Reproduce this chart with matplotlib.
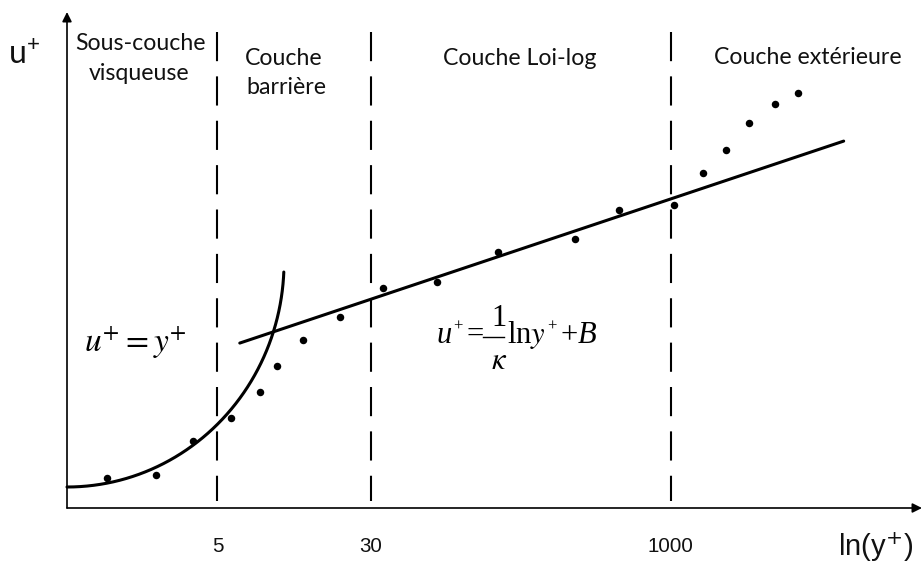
import numpy as np
import matplotlib
matplotlib.use("Agg")
import matplotlib.pyplot as plt

plt.rcParams["mathtext.fontset"] = "custom"
plt.rcParams["mathtext.rm"] = "Lato"
plt.rcParams["mathtext.it"] = "Lato:italic"

# --- data ---------------------------------------------------------------
# measured velocity profile: x = ln(y+), u = u+
ln_yplus = [0.32, 0.89, 1.32, 1.77, 2.11, 2.31, 2.61, 3.04, 3.54, 4.18,
            4.89, 5.79, 6.30, 6.95, 7.29, 7.55, 7.82, 8.13, 8.40]
u_plus = [2.56, 2.81, 5.71, 7.67, 9.89, 12.11, 14.32, 16.28, 18.76, 19.27,
          21.82, 22.93, 25.41, 25.83, 28.56, 30.52, 32.82, 34.44, 35.38]

# region limits (y+) and their labels
region_yplus = [5, 30, 1000]
region_ticks = ["5", "30", "1000"]

# log law u+ = (1/kappa) ln y+ + B
KAPPA = 0.41
B = 9.5
loglaw_range = [1.87, 8.93]

# sketched viscous-sublayer curve (quarter ellipse)
sub_x0, sub_a = -0.15, 2.537
sub_top, sub_b = 20.94, 19.15
sub_end = -0.043  # end angle (rad)

# --- figure -------------------------------------------------------------
W, H = 924, 566
fig = plt.figure(figsize=(W / 100, H / 100), dpi=100)
ax = fig.add_axes([0, 0, 1, 1])
ax.set_xlim(-0.9333, 9.869)
ax.set_ylim(-4.945, 43.31)
ax.axis("off")

x_axis_u = 0.0
y_axis_x = -0.15
top_u = (508 - 12) / 11.73
right_x = (922 - 79.83) / 85.54

arrow = dict(arrowstyle="-|>", lw=1.2, color="black",
             mutation_scale=14, shrinkA=0, shrinkB=0)
ax.annotate("", xy=(y_axis_x, top_u), xytext=(y_axis_x, x_axis_u),
            arrowprops=arrow)
ax.annotate("", xy=(right_x, x_axis_u), xytext=(y_axis_x, x_axis_u),
            arrowprops=arrow)

# region boundaries
dash_top = (508 - 32) / 11.73
dash_bot = (508 - 501) / 11.73
for yp in region_yplus:
    xv = np.log(yp)
    ax.plot([xv, xv], [dash_top, dash_bot], color="black", lw=1.5,
            dashes=(14, 7.3), solid_capstyle="butt", dash_capstyle="butt")

# viscous sublayer curve
th = np.linspace(-np.pi / 2, sub_end, 200)
ax.plot(sub_x0 + sub_a * np.cos(th), sub_top + sub_b * np.sin(th),
        color="black", lw=2.2, solid_capstyle="round")

# log law line
xl = np.array(loglaw_range)
ax.plot(xl, xl / KAPPA + B, color="black", lw=2.2, solid_capstyle="round")

# measurements
ax.plot(ln_yplus, u_plus, "o", color="black", ms=5.4, mec="none")


def ftext(px, py, s, **kw):
    fig.text(px / W, 1 - py / H, s, **kw)


sans = dict(family="Lato", color="#111111", ha="center", va="center")
FS = 16.7
ftext(140, 44, "Sous-couche", fontsize=FS, **sans)
ftext(139, 74, "visqueuse", fontsize=FS, **sans)
ftext(284, 58, "Couche", fontsize=FS, **sans)
ftext(286, 88, "barrière", fontsize=FS, **sans)
ftext(520, 58, "Couche Loi-log", fontsize=FS, **sans)
ftext(808, 57, "Couche extérieure", fontsize=FS, **sans)

ftext(24, 55, "u$^{+}$", fontsize=23, family="Lato", color="#111111",
      ha="center", va="center", math_fontfamily="custom")

arial = dict(family="Liberation Sans", color="#111111", ha="center", va="center")
for yp, lab in zip(region_yplus, region_ticks):
    px = 79.83 + 85.54 * np.log(yp)
    ftext(px, 547, lab, fontsize=14.8, **arial)
ftext(876, 547, "ln(y$^{+}$)", fontsize=21, math_fontfamily="dejavusans",
      **arial)

# equations
ftext(135, 343, r"$u^{+}=y^{+}$", fontsize=24, ha="center", va="center",
      math_fontfamily="stix")

serif = dict(fontsize=22, va="baseline", family="Liberation Serif")
sup = dict(fontsize=12, va="baseline", ha="left", family="Liberation Serif")
ftext(436, 343, "u", ha="left", style="italic", **serif)
ftext(453, 331, "+", **sup)
ftext(467, 343, "=", ha="left", **serif)
fig.add_artist(plt.Line2D([483 / W, 504 / W], [1 - 337 / H, 1 - 337 / H],
                          color="black", lw=1.0))
ftext(499, 326, "1", ha="center", **serif)
ftext(499, 369, r"$\kappa$", ha="center", math_fontfamily="stix", **serif)
ftext(507, 343, "ln$y$", ha="left", math_fontfamily="stix", **serif)
ftext(547, 331, "+", **sup)
ftext(561, 343, "+", ha="left", **serif)
ftext(578, 343, "B", ha="left", style="italic", **serif)

fig.savefig("out.png", dpi=100)
